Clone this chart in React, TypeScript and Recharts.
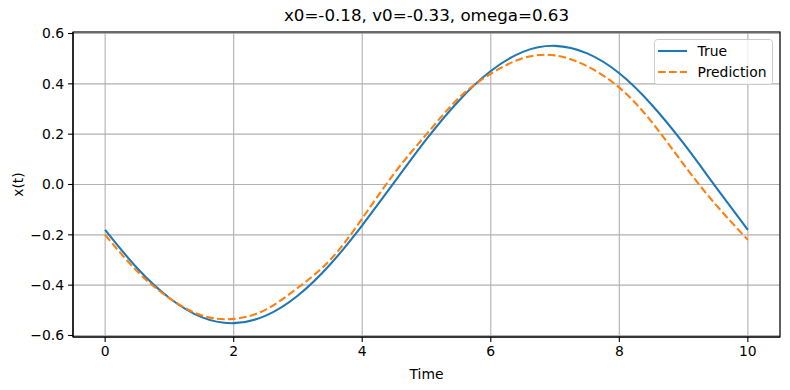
import { LineChart, Line, XAxis, YAxis, CartesianGrid, Legend, ReferenceArea, Label } from "recharts";

const times = [0, 0.5, 1, 1.5, 2, 2.5, 3, 3.5, 4, 4.5, 5, 5.5, 6, 6.5, 7, 7.5, 8, 8.5, 9, 9.5, 10];
const trueValues = [
  -0.18, -0.333, -0.451, -0.527, -0.551, -0.521, -0.441, -0.318, -0.162, 0.009, 0.18,
  0.332, 0.451, 0.527, 0.551, 0.521, 0.442, 0.318, 0.163, -0.009, -0.18,
];
const predictionValues = [
  -0.2, -0.345, -0.452, -0.52, -0.534, -0.497, -0.41, -0.3, -0.135, 0.045, 0.2,
  0.343, 0.44, 0.502, 0.513, 0.47, 0.385, 0.25, 0.08, -0.08, -0.22,
];
const xTicks = [0, 2, 4, 6, 8, 10];
const yTicks = [-0.6, -0.4, -0.2, 0, 0.2, 0.4, 0.6];
const seriesNames = ["True", "Prediction"];
const chartTitle = "x0=-0.18, v0=-0.33, omega=0.63";

const FONT = "'DejaVu Sans', sans-serif";
const BLUE = "#1f77b4";
const ORANGE = "#ff7f0e";
const DASH = "7.7 3.3";

const data = times.map((t, i) => ({ t, truth: trueValues[i], pred: predictionValues[i] }));

const fmtY = (v: number) => (v < 0 ? "\u2212" + Math.abs(v).toFixed(1) : v.toFixed(1));

function MplLegend() {
  return (
    <svg width={120} height={47} style={{ display: "block" }}>
      <rect x={0.5} y={0.5} width={118} height={45} rx={3} ry={3} fill="rgba(255,255,255,0.8)" stroke="#cccccc" strokeWidth={1} />
      <line x1={4} x2={33} y1={12} y2={12} stroke={BLUE} strokeWidth={2.1} />
      <text x={43.5} y={12} dominantBaseline="central" fontSize={13.9} fontFamily={FONT} fill="#000">
        {seriesNames[0]}
      </text>
      <line x1={4} x2={33} y1={33} y2={33} stroke={ORANGE} strokeWidth={2.1} strokeDasharray={DASH} />
      <text x={43.5} y={33} dominantBaseline="central" fontSize={13.9} fontFamily={FONT} fill="#000">
        {seriesNames[1]}
      </text>
    </svg>
  );
}

export default function App() {
  const tickStyle = { fill: "#000", fontSize: 13.9, fontFamily: FONT };
  return (
    <div style={{ position: "absolute", left: 0, top: 0, width: 790, height: 390, background: "#fff", fontFamily: FONT }}>
      <div
        style={{
          position: "absolute",
          left: 73,
          width: 707,
          top: 5,
          textAlign: "center",
          fontSize: 16.7,
          lineHeight: "20px",
          color: "#000",
        }}
      >
        {chartTitle}
      </div>
      <LineChart width={790} height={390} data={data} margin={{ top: 32, right: 10, left: 0, bottom: 0 }}>
        <CartesianGrid stroke="#b0b0b0" strokeWidth={1.1} />
        <XAxis
          dataKey="t"
          type="number"
          domain={[-0.5, 10.5]}
          ticks={xTicks}
          interval={0}
          height={53}
          allowDataOverflow
          tick={tickStyle}
          tickSize={4.9}
          tickMargin={4}
          tickLine={{ stroke: "#000", strokeWidth: 1.1 }}
          axisLine={{ stroke: "#000", strokeWidth: 1.1 }}
        >
          <Label value="Time" position="insideBottom" offset={11} style={{ fill: "#000", fontSize: 13.9, fontFamily: FONT }} />
        </XAxis>
        <YAxis
          type="number"
          domain={[-0.606, 0.606]}
          ticks={yTicks}
          interval={0}
          width={73}
          allowDataOverflow
          tickFormatter={fmtY}
          tick={tickStyle}
          tickSize={4.9}
          tickMargin={4}
          tickLine={{ stroke: "#000", strokeWidth: 1.1 }}
          axisLine={{ stroke: "#000", strokeWidth: 1.1 }}
        >
          <Label
            value="x(t)"
            angle={-90}
            position="insideLeft"
            offset={18}
            style={{ fill: "#000", fontSize: 13.9, fontFamily: FONT, textAnchor: "middle" }}
          />
        </YAxis>
        <ReferenceArea
          x1={-0.5}
          x2={10.5}
          y1={-0.606}
          y2={0.606}
          fill="none"
          fillOpacity={0}
          stroke="#000"
          strokeWidth={1.1}
          ifOverflow="visible"
        />
        <Line
          type="natural"
          dataKey="truth"
          name={seriesNames[0]}
          stroke={BLUE}
          strokeWidth={2.1}
          dot={false}
          activeDot={false}
          isAnimationActive={false}
        />
        <Line
          type="natural"
          dataKey="pred"
          name={seriesNames[1]}
          stroke={ORANGE}
          strokeWidth={2.1}
          strokeDasharray={DASH}
          dot={false}
          activeDot={false}
          isAnimationActive={false}
        />
        <Legend
          layout="horizontal"
          align="center"
          verticalAlign="middle"
          wrapperStyle={{ top: 39, left: 654, width: 120, height: 47 }}
          content={() => <MplLegend />}
        />
      </LineChart>
    </div>
  );
}
